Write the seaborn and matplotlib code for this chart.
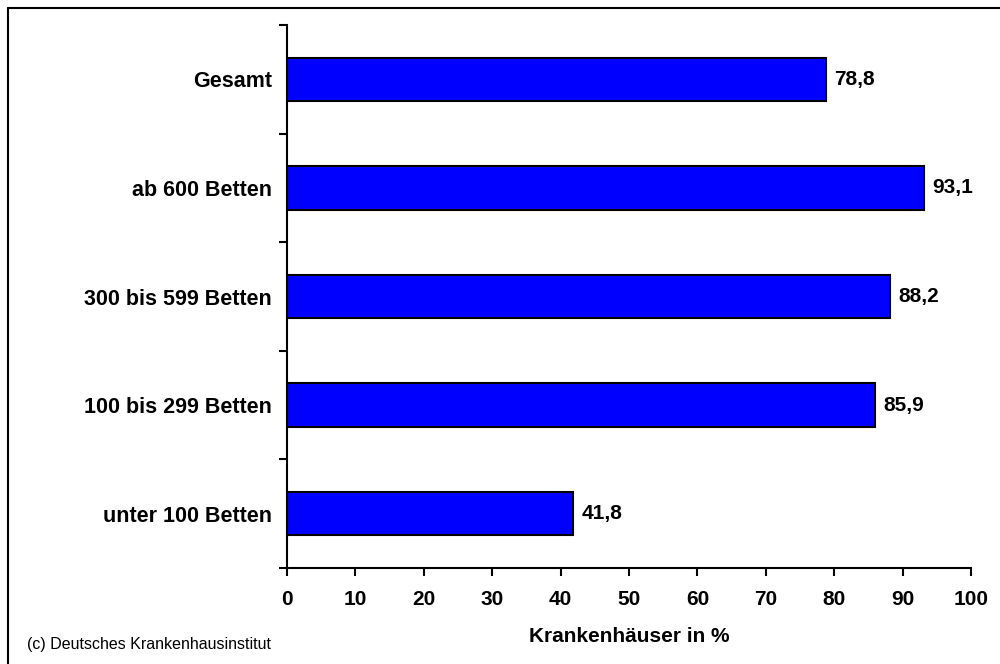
import matplotlib
matplotlib.use("Agg")
import matplotlib.pyplot as plt
import matplotlib.lines as mlines
import seaborn as sns
import pandas as pd
import numpy as np

categories = ["Gesamt", "ab 600 Betten", "300 bis 599 Betten",
              "100 bis 299 Betten", "unter 100 Betten"]
values = [78.8, 93.1, 88.2, 85.9, 41.8]
x_ticks = [0, 10, 20, 30, 40, 50, 60, 70, 80, 90, 100]

sns.set_theme(style="white")
plt.rcParams["font.family"] = ["Liberation Sans", "DejaVu Sans"]

df = pd.DataFrame({"Kategorie": categories, "Wert": values})

fig = plt.figure(figsize=(10, 6.64), dpi=100)
ax = fig.add_axes([0.287, 0.1446, 0.684, 0.8177])

sns.barplot(data=df, x="Wert", y="Kategorie", orient="h", order=categories,
            color="#0000FF", saturation=1, edgecolor="black", linewidth=1.5,
            width=0.4, ax=ax)

ax.set_xlim(0, 100)
ax.set_ylim(len(categories) - 0.5, -0.5)
ax.set_xticks(x_ticks)
ax.set_xticklabels([str(t) for t in x_ticks], fontsize=15, fontweight="bold",
                   color="black")
ax.set_yticks(range(len(categories)))
ax.set_yticklabels(categories, fontsize=15.5, fontweight="bold", color="black")
ax.set_yticks(np.arange(-0.5, len(categories), 1.0), minor=True)
ax.tick_params(axis="y", which="major", length=0, pad=11)
ax.tick_params(axis="y", which="minor", length=6, width=1.5, direction="out",
               color="black", left=True)
ax.tick_params(axis="x", which="major", length=6, width=1.5, direction="out",
               color="black", bottom=True, pad=10)
ax.set_xlabel("Krankenhäuser in %", fontsize=15, fontweight="bold",
              color="black", labelpad=13)
ax.set_ylabel("")

for side in ["top", "right"]:
    ax.spines[side].set_visible(False)
for side in ["left", "bottom"]:
    ax.spines[side].set_color("black")
    ax.spines[side].set_linewidth(1.5)

for i, v in enumerate(values):
    ax.annotate(f"{v:.1f}".replace(".", ","), xy=(v, i), xytext=(6, 0),
                textcoords="offset points", va="center", ha="left",
                fontsize=15, fontweight="bold", color="black")

fig.text(0.027, 0.029, "(c) Deutsches Krankenhausinstitut", fontsize=11.5,
         ha="left", va="center", color="black")

# outer frame (left and top edges)
fig.add_artist(mlines.Line2D([0.008, 0.008], [0.0, 0.988], color="black",
                             lw=1.5, transform=fig.transFigure))
fig.add_artist(mlines.Line2D([0.008, 1.0], [0.988, 0.988], color="black",
                             lw=1.5, transform=fig.transFigure))

fig.savefig("out.png", dpi=100, facecolor="white")
